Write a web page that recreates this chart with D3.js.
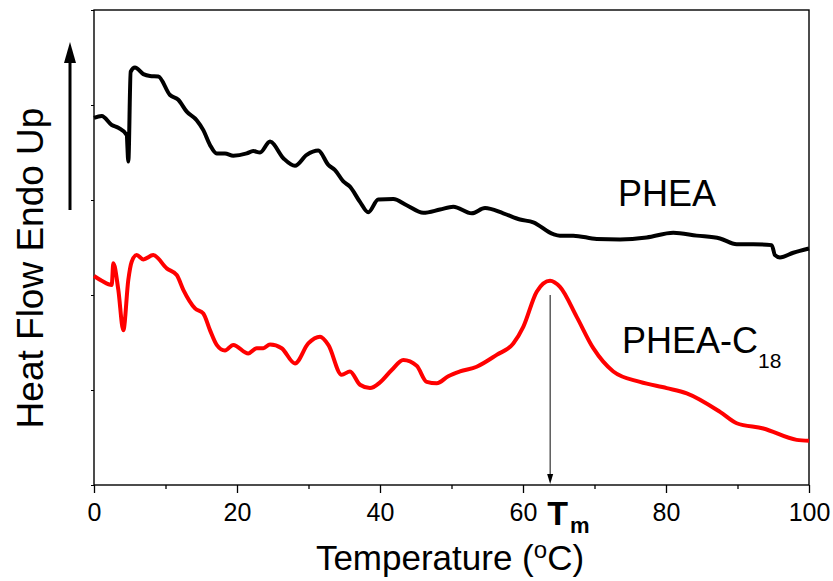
<!DOCTYPE html>
<html>
<head>
<meta charset="utf-8">
<script src="https://cdn.jsdelivr.net/npm/d3@7/dist/d3.min.js"></script>
<style>
  body { margin: 0; background: #fff; }
  text { font-family: "Liberation Sans", Arial, sans-serif; }
</style>
</head>
<body>
<div class="dscChart"></div>
<script>
// temperature (°C) and heat flow (arb. units)
var pheaT = [0, 1.08, 2.48, 3.4, 4.57, 4.8, 5.13, 5.73, 6.9, 7.83, 8.99, 10.63, 11.79, 12.97, 14.36, 15.29,
             16.22, 17.16, 18.32, 19.48, 21.36, 22.28, 23.22, 24.62, 26.48, 28.11, 29.75, 31.37, 32.77, 33.71,
             34.87, 35.8, 37.2, 38.36, 39.76, 41.86, 43.73, 46.06, 48.39, 50.25, 52.83, 54.69, 57.24, 59.58,
             61.44, 64.24, 65.17, 67.03, 70.31, 73.57, 77.3, 81.02, 84.29, 87.55, 89.89, 92.21, 94.78, 95.24,
             95.94, 97.8, 100];
var pheaHF = [7.73, 7.77, 7.58, 7.52, 7.37, 6.81, 8.70, 8.79, 8.65, 8.61, 8.60, 8.21, 8.11, 7.86, 7.68, 7.47,
              7.16, 6.98, 6.98, 6.93, 6.98, 7.03, 7.00, 7.23, 6.88, 6.72, 6.95, 7.04, 6.74, 6.63,
              6.39, 6.28, 5.96, 5.74, 6.01, 6.02, 5.89, 5.73, 5.80, 5.86, 5.72, 5.83, 5.72, 5.59,
              5.53, 5.28, 5.25, 5.25, 5.18, 5.17, 5.21, 5.31, 5.25, 5.19, 5.07, 5.07, 5.05, 4.84,
              4.79, 4.89, 4.98];

var c18T = [0, 1.08, 2.48, 2.7, 3.4, 4.1, 4.8, 5.27, 5.97, 6.9, 8.29, 10.17, 11.57, 12.49, 14.13, 15.29,
            16.22, 17.16, 18.32, 19.48, 21.58, 22.76, 23.68, 24.62, 26.25, 28.11, 29.97, 31.61, 32.77, 34.64,
            35.8, 37.2, 38.6, 40, 41.64, 43.26, 45.13, 46.53, 47.93, 49.55, 51.19, 53.52, 56.32, 58.64,
            60.04, 61.92, 63.78, 65.17, 67.51, 69.83, 72.63, 76.36, 80.1, 82.9, 87.55, 89.89, 93.61, 98.28, 100];
var c18HF = [4.40, 4.30, 4.21, 4.67, 4.11, 3.26, 4.32, 4.70, 4.84, 4.75, 4.84, 4.56, 4.42, 4.11, 3.72, 3.61,
             3.26, 2.95, 2.83, 2.95, 2.77, 2.88, 2.88, 2.96, 2.88, 2.56, 2.98, 3.12, 2.95, 2.32,
             2.39, 2.11, 2.04, 2.16, 2.42, 2.63, 2.51, 2.17, 2.14, 2.29, 2.39, 2.49, 2.74, 2.98,
             3.33, 4.07, 4.30, 4.17, 3.54, 2.88, 2.39, 2.17, 2.04, 1.93, 1.54, 1.30, 1.19, 0.95, 0.93];

var majorTicks = [0, 20, 40, 60, 80, 100];
var minorTicks = [10, 30, 50, 70, 90];
var yTicks = [0, 2, 4, 6, 8, 10];
var Tm = 63.8;

var width = 833, height = 581;
var plotLeft = 94, plotRight = 809, plotTop = 10, plotBottom = 485;

var svg = d3.select('.dscChart')
            .append('svg')
            .attr('width', width)
            .attr('height', height);

var x = d3.scaleLinear().domain([0, 100]).range([plotLeft, plotRight]);
var y = d3.scaleLinear().domain([0, 10]).range([plotBottom, plotTop]);

// minor ticks
var xm = svg.append('g')
   .attr('transform', 'translate(0,' + plotBottom + ')')
   .call(d3.axisBottom(x).tickValues(minorTicks).tickSize(4).tickFormat(''));
xm.select('.domain').remove();
xm.selectAll('line').attr('stroke-width', 1.3);

// major ticks with labels
var xa = svg.append('g')
   .attr('transform', 'translate(0,' + plotBottom + ')')
   .call(d3.axisBottom(x).tickValues(majorTicks).tickSize(8).tickPadding(10));
xa.select('.domain').remove();
xa.selectAll('line').attr('stroke-width', 1.3);
xa.selectAll('text')
  .style('font-size', '25px')
  .style('font-family', '"Liberation Sans", Arial, sans-serif')
  .attr('fill', '#000');

// small y ticks, no labels
var ya = svg.append('g')
   .attr('transform', 'translate(' + plotLeft + ',0)')
   .call(d3.axisLeft(y).tickValues(yTicks).tickSize(3).tickFormat(''));
ya.select('.domain').remove();

// frame
svg.append('rect')
   .attr('x', plotLeft).attr('y', plotTop)
   .attr('width', plotRight - plotLeft).attr('height', plotBottom - plotTop)
   .attr('fill', 'none').attr('stroke', '#000').attr('stroke-width', 1.4);

var line = d3.line()
             .x(function(d){ return x(d[0]); })
             .y(function(d){ return y(d[1]); })
             .curve(d3.curveMonotoneX);

svg.append('path')
   .datum(d3.zip(pheaT, pheaHF))
   .attr('d', line)
   .attr('fill', 'none').attr('stroke', '#000').attr('stroke-width', 4)
   .attr('stroke-linejoin', 'round');

svg.append('path')
   .datum(d3.zip(c18T, c18HF))
   .attr('d', line)
   .attr('fill', 'none').attr('stroke', '#ff0000').attr('stroke-width', 4)
   .attr('stroke-linejoin', 'round');

// Tm arrow
var tmX = x(Tm);
svg.append('line')
   .attr('x1', tmX).attr('x2', tmX)
   .attr('y1', y(4.0)).attr('y2', plotBottom - 8)
   .attr('stroke', '#333').attr('stroke-width', 1.2);
svg.append('path')
   .attr('d', 'M' + (tmX - 3) + ',' + (plotBottom - 11) + 'L' + (tmX + 3) + ',' + (plotBottom - 11) + 'L' + tmX + ',' + (plotBottom - 1) + 'Z')
   .attr('fill', '#000');

var tm = svg.append('text')
   .attr('x', tmX - 3).attr('y', 525)
   .attr('font-weight', 'bold').attr('font-size', 34);
tm.append('tspan').text('T');
tm.append('tspan').attr('font-size', 22).attr('dx', 2).attr('dy', 8).text('m');

// series labels
svg.append('text')
   .attr('x', 618).attr('y', 206)
   .attr('font-size', 36)
   .text('PHEA');

var c18 = svg.append('text')
   .attr('x', 622).attr('y', 353)
   .attr('font-size', 36);
c18.append('tspan').text('PHEA-C');
c18.append('tspan').attr('font-size', 21).attr('dy', 15).text('18');

// axis titles
var xt = svg.append('text')
   .attr('x', 450).attr('y', 570)
   .attr('text-anchor', 'middle')
   .attr('font-size', 35);
xt.append('tspan').text('Temperature (');
xt.append('tspan').attr('font-size', 24).attr('dy', -12).text('o');
xt.append('tspan').attr('dy', 12).text('C)');

svg.append('text')
   .attr('transform', 'translate(43,268) rotate(-90)')
   .attr('text-anchor', 'middle')
   .attr('font-size', 37)
   .text('Heat Flow Endo Up');

// heat flow direction arrow
svg.append('line')
   .attr('x1', 70).attr('x2', 70)
   .attr('y1', 210).attr('y2', 58)
   .attr('stroke', '#000').attr('stroke-width', 3);
svg.append('path')
   .attr('d', 'M64,63L76,63L70,42Z')
   .attr('fill', '#000');
</script>
</body>
</html>
